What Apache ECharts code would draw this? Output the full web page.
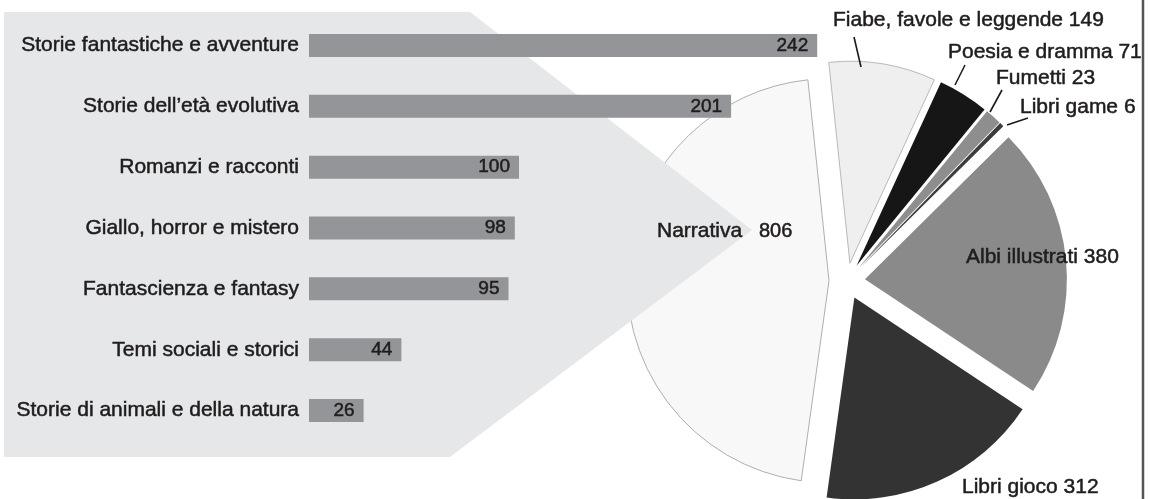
<!DOCTYPE html>
<html>
<head>
<meta charset="utf-8">
<script src="https://cdn.jsdelivr.net/npm/echarts@6/dist/echarts.min.js"></script>
<style>
html,body{margin:0;padding:0;background:#fff;}
#chart{width:1150px;height:499px;}
</style>
</head>
<body>
<div id="chart"></div>
<script>
// Bar chart: sub-genres of "Narrativa"
var barCategories = [
  'Storie fantastiche e avventure',
  'Storie dell\u2019et\u00e0 evolutiva',
  'Romanzi e racconti',
  'Giallo, horror e mistero',
  'Fantascienza e fantasy',
  'Temi sociali e storici',
  'Storie di animali e della natura'
];
var barValues = [242, 201, 100, 98, 95, 44, 26];

// Pie chart: genres
var pieNames = [
  'Fiabe, favole e leggende',
  'Poesia e dramma',
  'Fumetti',
  'Libri game',
  'Albi illustrati',
  'Libri gioco',
  'Narrativa'
];
var pieValues = [149, 71, 23, 6, 380, 312, 806];

var FONT = '"Liberation Sans", Arial, Helvetica, sans-serif';
var TXT = '#1e1c1d';
var pieColors = ['#efefef', '#161616', '#8e8e8e', '#3c3c3c', '#8a8a8a', '#333333', '#f8f8f8'];
var pieBorders = ['#a8a8a8', '#161616', '#8e8e8e', '#3c3c3c', '#8a8a8a', '#333333', '#9a9a9a'];

// label placement (layout only)
var labelPlaces = [
  {x: 833, y: 20, line: [[861, 67], [854, 37]]},
  {x: 948, y: 52, line: [[955, 85], [965, 65]]},
  {x: 996, y: 78, line: [[990, 112], [1002, 90]]},
  {x: 1020, y: 107, line: [[1007, 125], [1028, 118]]},
  {x: 966, y: 257, line: null},
  {x: 962, y: 487, line: null},
  {x: 657, y: 231, line: null, split: 759}
];

function txtStyle(text, size) {
  return {text: text, font: size + 'px ' + FONT, fill: TXT, verticalAlign: 'middle', align: 'left',
          stroke: TXT, lineWidth: 0.5};
}

var graphics = [
  {
    type: 'polygon',
    z: 3,
    shape: {points: [[4, 12], [470, 12], [752, 230], [450, 457], [4, 457]]},
    style: {fill: '#e6e7e8'}
  },
  {
    type: 'line',
    z: 6,
    shape: {x1: 1143, y1: 0, x2: 1143, y2: 499},
    style: {stroke: '#555555', lineWidth: 2.5}
  }
];

pieNames.forEach(function (n, i) {
  var pl = labelPlaces[i];
  if (pl.split) {
    graphics.push({type: 'text', z: 7, x: pl.x, y: pl.y, style: txtStyle(n, 21)});
    graphics.push({type: 'text', z: 7, x: pl.split, y: pl.y, style: txtStyle(String(pieValues[i]), 20)});
  } else {
    graphics.push({type: 'text', z: 7, x: pl.x, y: pl.y, style: txtStyle(n + ' ' + pieValues[i], 21)});
  }
  if (pl.line) {
    graphics.push({type: 'polyline', z: 7, shape: {points: pl.line}, style: {stroke: '#1a1a1a', lineWidth: 1.6, fill: null}});
  }
});

var pieData = pieNames.map(function (n, i) {
  return {
    name: n,
    value: pieValues[i],
    selected: true,
    itemStyle: {color: pieColors[i], borderColor: pieBorders[i], borderWidth: (i === 0 || i === 6) ? 0.8 : 0}
  };
});

var chart = echarts.init(document.getElementById('chart'), null, {renderer: 'canvas'});

var option = {
  backgroundColor: '#ffffff',
  animation: false,
  grid: {left: 309, top: 15, width: 525, height: 426, containLabel: false},
  xAxis: {type: 'value', min: 0, max: 250, show: false},
  yAxis: {
    type: 'category',
    data: barCategories,
    inverse: true,
    z: 6,
    axisLine: {show: false},
    axisTick: {show: false},
    splitLine: {show: false},
    axisLabel: {
      margin: 10,
      color: TXT,
      fontFamily: FONT,
      fontSize: 21,
      align: 'right',
      textBorderColor: TXT,
      textBorderWidth: 0.5
    }
  },
  graphic: graphics,
  series: [
    {
      type: 'pie',
      z: 2,
      center: [847, 281],
      radius: 202,
      startAngle: 96,
      clockwise: true,
      selectedMode: 'multiple',
      selectedOffset: 18,
      avoidLabelOverlap: false,
      silent: true,
      emphasis: {disabled: true},
      label: {show: false},
      labelLine: {show: false},
      data: pieData
    },
    {
      type: 'bar',
      z: 5,
      data: barValues,
      barWidth: 23,
      itemStyle: {color: '#939598'},
      silent: true,
      label: {
        show: true,
        position: 'insideRight',
        distance: 9,
        color: TXT,
        fontFamily: FONT,
        fontSize: 19,
        textBorderColor: TXT,
        textBorderWidth: 0.5
      }
    }
  ]
};

chart.setOption(option);
</script>
</body>
</html>
